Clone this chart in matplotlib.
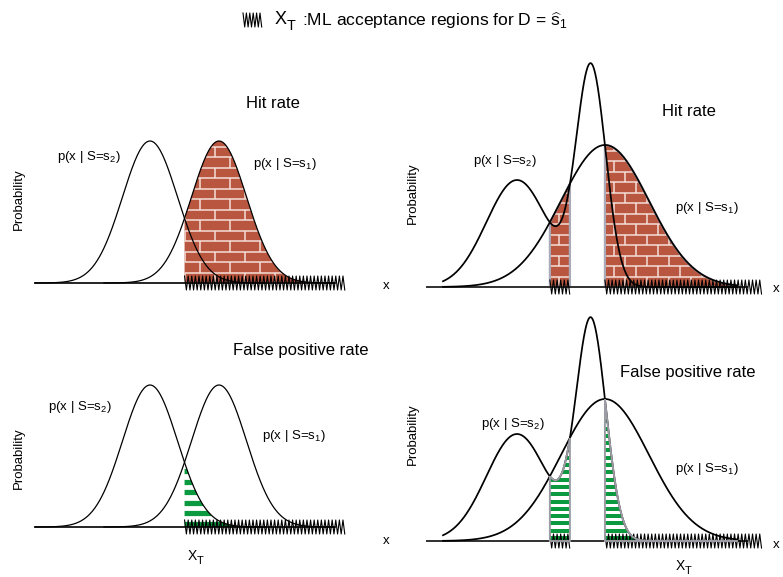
import numpy as np
import matplotlib.pyplot as plt
from matplotlib.patches import Polygon
from matplotlib.collections import LineCollection
from matplotlib.lines import Line2D

plt.rcParams['font.family'] = ['Liberation Sans', 'DejaVu Sans']
plt.rcParams['mathtext.fontset'] = 'custom'
plt.rcParams['mathtext.rm'] = 'Liberation Sans'
plt.rcParams['mathtext.it'] = 'Liberation Sans:italic'
plt.rcParams['mathtext.default'] = 'regular'

W, H = 783, 577

# ---- data (x unit = 10 px, y unit = 100 px) ----
# left panels: two equal-width gaussians  [s2, s1]
left_means = [11.5, 18.4]
left_sigma = 2.75
left_height = 1.42
left_span = 11.5            # each curve drawn to mean +- span

# right panels: s1 broad gaussian, s2 = wide + narrow gaussian (mean, sigma, height)
right_s1 = [17.8, 4.4, 1.42]
right_s2_wide = [9.0, 3.06, 1.07]
right_s2_narrow = [16.4, 1.48, 2.18]
right_range = [1.6, 31.0]

left_zig_end = 31.0
right_zig_end = 33.5

BRICK = '#b9563f'
MORTAR = '#f4dfd8'
GREEN = '#0b9a40'


def gauss(x, m, s, h):
    return h * np.exp(-(x - m) ** 2 / (2 * s ** 2))


def make_axes(pl, pt, pr, pb, x0, base):
    ax = fig.add_axes([pl / W, 1 - pb / H, (pr - pl) / W, (pb - pt) / H])
    ax.set_xlim((pl - x0) / 10, (pr - x0) / 10)
    ax.set_ylim((base - pb) / 100, (base - pt) / 100)
    ax.axis('off')
    return ax


def runs(mask):
    out = []
    i = 0
    n = len(mask)
    while i < n:
        if mask[i]:
            j = i
            while j + 1 < n and mask[j + 1]:
                j += 1
            out.append((i, j))
            i = j + 1
        else:
            i += 1
    return out


def zigzag(ax, xa, xb, lo=-0.07, hi=0.07, step=0.18):
    xs = np.arange(xa, xb + 1e-9, step)
    ys = np.where(np.arange(len(xs)) % 2 == 0, hi, lo)
    ax.plot(xs, ys, color='k', lw=0.8, zorder=5, clip_on=False)


def region_poly(ax, x, y, fc, z=1):
    pts = np.column_stack([np.r_[x[0], x, x[-1]], np.r_[0, y, 0]])
    p = Polygon(pts, closed=True, fc=fc, ec='none', zorder=z)
    ax.add_patch(p)
    return p, pts


def brick_fill(ax, x, y, bw, edge=None):
    p, pts = region_poly(ax, x, y, BRICK)
    bh = 0.105
    segs = []
    for k, r in enumerate(np.arange(0, y.max() + bh, bh)):
        segs.append([(x[0] - 1, r), (x[-1] + 1, r)])
        for bx in np.arange((k % 2) * bw / 2, 40, bw):
            if x[0] - 0.1 < bx < x[-1] + 0.1:
                segs.append([(bx, r), (bx, r + bh)])
    lc = LineCollection(segs, colors=MORTAR, lw=1.1, zorder=2)
    ax.add_collection(lc)
    lc.set_clip_path(p)
    if edge:
        ax.add_patch(Polygon(pts, closed=True, fc='none', ec=edge, lw=1.6, zorder=3))


def stripe_fill(ax, x, y, period, band, start, edge=None, z_edge=3):
    p, pts = region_poly(ax, x, y, 'white')
    segs = [[(x[0] - 1, r), (x[-1] + 1, r)] for r in np.arange(start, y.max() + period, period)]
    lc = LineCollection(segs, colors=GREEN, lw=band * 100 * 0.72, zorder=2)
    ax.add_collection(lc)
    lc.set_clip_path(p)
    if edge:
        ax.add_patch(Polygon(pts, closed=True, fc='none', ec=edge, lw=1.4, zorder=z_edge))


def left_panel(ax, fill):
    m2, m1 = left_means
    ax.plot([0, 30], [0, 0], color='k', lw=1.2, zorder=4)
    grid = np.linspace(0, left_zig_end, 3000)
    mask = gauss(grid, m1, left_sigma, left_height) > gauss(grid, m2, left_sigma, left_height)
    for i0, i1 in runs(mask):
        xa, xb = grid[i0], grid[i1]
        if fill == 'brick':
            xf = np.linspace(xa, min(xb, m1 + left_span), 300)
            brick_fill(ax, xf, gauss(xf, m1, left_sigma, left_height), 3.0)
        else:
            xf = np.linspace(xa, min(xb, m2 + left_span), 300)
            stripe_fill(ax, xf, gauss(xf, m2, left_sigma, left_height), 0.105, 0.052, 0.035)
        zigzag(ax, xa, xb)
    for m in left_means:
        xc = np.linspace(m - left_span, m + left_span, 400)
        ax.plot(xc, gauss(xc, m, left_sigma, left_height), color='k', lw=0.9, zorder=4)


def right_panel(ax, fill):
    ax.plot([0, 32], [0, 0], color='#303030', lw=1.4, zorder=4)
    grid = np.linspace(right_range[0], right_zig_end, 4000)
    p1 = lambda v: gauss(v, *right_s1)
    p2 = lambda v: gauss(v, *right_s2_wide) + gauss(v, *right_s2_narrow)
    mask = p1(grid) > p2(grid)
    for i0, i1 in runs(mask):
        xa, xb = grid[i0], grid[i1]
        xf = np.linspace(xa, min(xb, right_range[1]), 400)
        if fill == 'brick':
            brick_fill(ax, xf, p1(xf), 2.2, edge='#a9a9b8')
        else:
            stripe_fill(ax, xf, p2(xf), 0.073, 0.04, 0.03, edge='#9c9ca4', z_edge=6)
        zigzag(ax, xa, xb)
    xc = np.linspace(right_range[0], right_range[1], 800)
    ax.plot(xc, p1(xc), color='k', lw=1.25, zorder=4)
    ax.plot(xc, p2(xc), color='k', lw=1.25, zorder=4)


def txt(px, py, s, size=9.5, **kw):
    kw.setdefault('ha', 'left')
    kw.setdefault('va', 'center')
    fig.text(px / W, 1 - py / H, s, fontsize=size, **kw)


def x_t(px, py, size):
    # X with a large, lowered subscript T
    txt(px, py, 'X', size=size)
    txt(px + size * 0.88, py + size * 0.45, 'T', size=size * 0.8)


fig = plt.figure(figsize=(W / 100, H / 100), dpi=100)

ax_tl = make_axes(0, 50, 400, 300, 35, 283)
ax_bl = make_axes(0, 300, 400, 577, 35, 527)
ax_tr = make_axes(400, 50, 783, 300, 427, 287)
ax_br = make_axes(400, 300, 783, 577, 427, 541)

left_panel(ax_tl, 'brick')
left_panel(ax_bl, 'stripe')
right_panel(ax_tr, 'brick')
right_panel(ax_br, 'stripe')

# title with zigzag icon
zx = np.arange(243, 262.1, 1.7)
zy = np.where(np.arange(len(zx)) % 2 == 0, 13, 27)
fig.add_artist(Line2D(zx / W, 1 - zy / H, color='k', lw=0.8, transform=fig.transFigure))
x_t(275, 20, 13)
txt(302, 21, r':ML acceptance regions for D = $\widehat{s}_{1}$', size=12.6)

txt(246, 103, 'Hit rate', size=12)
txt(57, 157, r'p(x | S=s$_{2}$)')
txt(253, 164, r'p(x | S=s$_{1}$)')
txt(19, 199, 'Probability', rotation=90, ha='center')
txt(383, 286, 'x')

txt(233, 350, 'False positive rate', size=12)
txt(48, 407, r'p(x | S=s$_{2}$)')
txt(262, 436, r'p(x | S=s$_{1}$)')
txt(19, 458, 'Probability', rotation=90, ha='center')
txt(383, 541, 'x')
x_t(188, 556, 10)

txt(662, 112, 'Hit rate', size=12)
txt(473, 161, r'p(x | S=s$_{2}$)')
txt(675, 208, r'p(x | S=s$_{1}$)')
txt(413, 193, 'Probability', rotation=90, ha='center')
txt(773, 289, 'x')

txt(620, 372, 'False positive rate', size=12)
txt(481, 424, r'p(x | S=s$_{2}$)')
txt(675, 469, r'p(x | S=s$_{1}$)')
txt(413, 434, 'Probability', rotation=90, ha='center')
txt(773, 545, 'x')
x_t(676, 566, 10)

fig.savefig('out.png', dpi=100)
